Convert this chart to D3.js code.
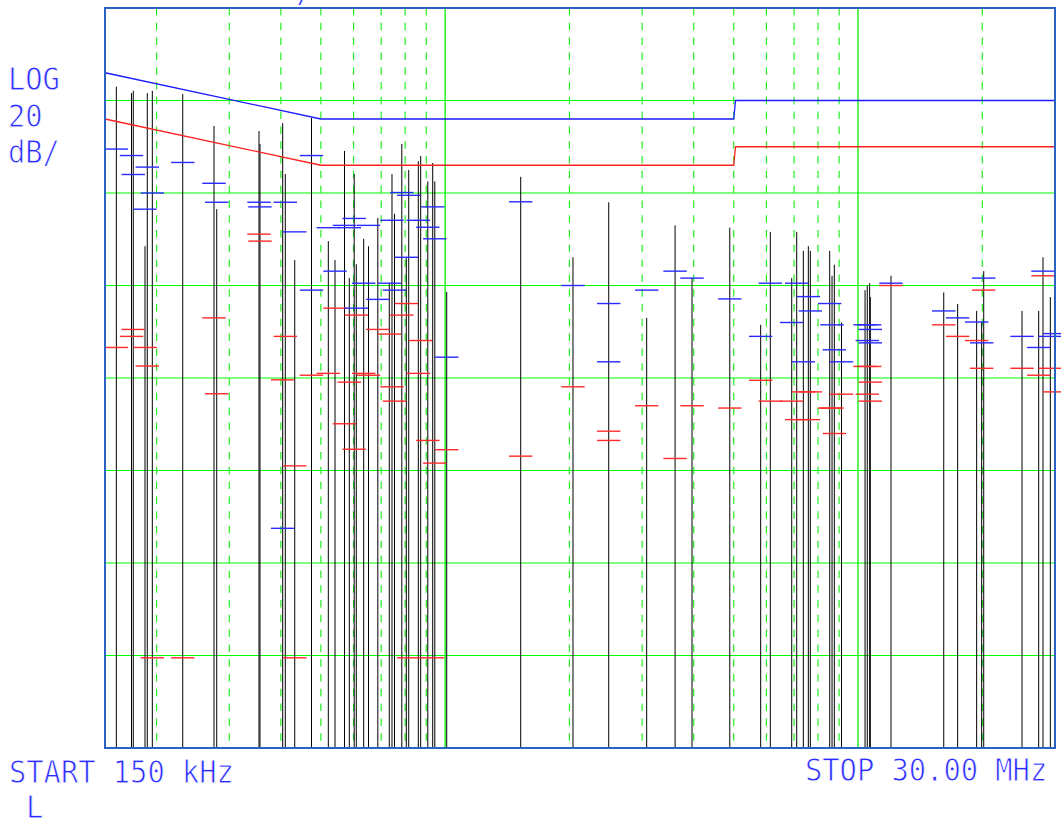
<!DOCTYPE html>
<html>
<head>
<meta charset="utf-8">
<script src="https://cdn.jsdelivr.net/npm/d3@7"></script>
<style>
  body { margin: 0; background: #fff; }
  svg { display: block; }
  .lbl { font-family: "DejaVu Sans Mono", monospace; fill: #2c2cff; stroke: #fff; stroke-width: 0.9; }
</style>
</head>
<body>
<div id="chart"></div>
<script>
// SETUP
////////////////////////////
var width = 1061,
    height = 825;

// frame of the analyzer screen (px)  -- NB "top" is taken by window.top, so prefix
var plotLeft = 105, plotRight = 1055, plotTop = 8, plotBottom = 748;

// DATA
//////////////////////////////////////////////////////
// spectrum peaks: frequency in MHz, level in dBuV
var peakFreq = [0.1598, 0.1739, 0.1756, 0.1875, 0.1899, 0.1953, 0.2314, 0.2755, 0.2797, 0.3541,
                0.3560, 0.4041, 0.4100, 0.4322, 0.4745, 0.5212, 0.5410, 0.5704, 0.5859, 0.6021,
                0.6092, 0.6349, 0.6521, 0.6869, 0.7323, 0.7434, 0.7539, 0.7852, 0.8052, 0.8161,
                0.8610, 0.8725, 0.9077, 0.9329, 0.9438, 1.0087, 1.524, 2.040, 2.490, 3.077,
                3.605, 3.962, 4.891, 5.811, 6.131, 6.909, 7.104, 7.371, 7.580, 7.665,
                8.540, 8.651, 8.762, 9.121, 10.40, 10.53, 10.67, 10.71, 12.02, 16.13,
                17.43, 19.38, 19.93, 20.16, 24.96, 27.39, 28.06, 29.23, 29.93];
var peakLevel = [63.0, 61.6, 62.1, 28.5, 61.6, 62.1, 61.4, 54.5, 36.5, 53.4,
                 50.6, 55.1, 44.1, 25.5, 56.2, 29.6, 25.5, 49.1, 21.6, 44.1,
                 24.6, 30.1, 28.5, 34.6, 20.5, 44.1, 35.5, 50.6, 25.9, 45.0,
                 46.9, 48.0, 42.5, 46.5, 42.5, 18.6, 43.5, 26.1, 38.0, 13.0,
                 33.0, 21.6, 32.5, 11.5, 31.6, 21.6, 31.6, 27.5, 28.5, 27.5,
                 27.5, 22.1, 24.5, 12.0, 19.0, 20.0, 20.5, 17.5, 22.1, 18.5,
                 16.0, 14.5, 12.1, 23.1, 14.5, 14.5, 26.1, 17.5, 19.0];

// quasi-peak readings (blue ticks)
var qpFreq = [0.1598, 0.1739, 0.1899, 0.1756, 0.2314, 0.1953, 0.1875, 0.2755, 0.2797, 0.3541,
              0.3560, 0.4100, 0.4745, 0.4322, 0.6021, 0.5704, 0.5212, 0.5859, 0.6521, 0.7852,
              0.8161, 0.9329, 0.7434, 0.8610, 0.9077, 0.9438, 0.8052, 0.5410, 0.4745, 0.6349,
              0.7323, 0.7539, 0.6869, 0.6092, 1.0087, 0.4041, 1.524, 2.040, 2.490, 2.490,
              3.077, 3.605, 3.962, 4.891, 5.811, 6.131, 7.104, 6.909, 7.580, 7.665,
              7.371, 8.540, 8.651, 8.762, 9.121, 10.40, 10.67, 10.71, 10.53, 10.71,
              12.02, 16.13, 17.43, 19.38, 20.16, 19.93, 24.96, 27.39, 28.06, 29.23, 29.93];
var qpLevel = [49.5, 48.1, 45.6, 44.0, 46.6, 40.0, 36.5, 42.1, 38.0, 38.0,
               37.0, 38.0, 48.1, 31.6, 34.5, 33.0, 32.5, 32.5, 33.0, 40.1,
               39.5, 37.0, 34.1, 34.1, 32.6, 30.1, 26.1, 23.1, 19.0, 20.5,
               20.5, 19.0, 17.0, 15.1, 4.5, -32.5, 38.1, 20.0, 16.1, 3.5,
               19.0, 23.1, 21.6, 17.1, 9.0, 20.5, 20.5, 12.0, 17.6, 14.5,
               3.5, 16.1, 11.5, 6.1, 3.5, 11.5, 11.5, 10.5, 8.1, 7.6,
               20.5, 14.5, 13.0, 12.1, 21.6, 7.6, 9.0, 6.6, 23.1, 9.0, 9.6];

// average readings (red ticks)
var avFreq = [0.1756, 0.1739, 0.1598, 0.1875, 0.1899, 0.2755, 0.2797, 0.3541, 0.3560, 0.4100,
              0.4041, 0.4745, 0.5212, 0.5410, 0.5704, 0.5859, 0.6021, 0.6092, 0.6349, 0.6521,
              0.6869, 0.7323, 0.7434, 0.7539, 0.7852, 0.8052, 0.8610, 0.8725, 0.9077, 0.9438,
              1.0087, 0.4322, 0.1953, 0.2314, 0.4322, 0.8161, 0.9329, 1.524, 2.040, 2.490,
              2.490, 3.077, 3.605, 3.962, 4.891, 5.811, 6.131, 6.909, 7.104, 7.371,
              7.665, 7.580, 8.540, 8.651, 9.121, 8.762, 10.40, 10.67, 10.71, 10.53,
              10.71, 12.02, 16.13, 17.43, 19.38, 20.16, 19.93, 24.96, 27.39, 28.06, 29.23, 29.93];
var avLevel = [10.5, 9.0, 6.6, 6.6, 2.6, 13.0, -3.4, 31.1, 29.6, 9.0,
               -0.4, 0.6, 1.0, 15.1, -9.9, -0.9, -15.4, 13.6, 1.0, 0.6,
               10.5, 9.5, -1.9, -5.0, 13.6, 16.1, 1.0, 8.1, -13.5, -18.4,
               -15.5, -19.0, -60.5, -60.5, -60.5, -60.5, -60.5, -16.9, -1.9, -11.5,
               -13.5, -6.0, -17.4, -6.0, -6.5, -0.5, -5.0, -5.0, -9.0, -3.0,
               -3.0, -9.0, -6.5, -6.5, -3.5, -12.0, 2.5, 2.5, -0.9, -3.5,
               -5.0, 20.0, 11.5, 9.0, 8.1, 19.0, 2.1, 2.1, 0.6, 22.1, 2.1, -3.0];

// limit lines (CISPR class B, QP and AV)
var limitFreq    = [0.15, 0.5, 5.0, 5.05, 30];
var qpLimitLevel = [66, 56, 56, 60, 60];
var avLimitLevel = [56, 46, 46, 50, 50];

// graticule
var levelTicks = [60, 40, 20, 0, -20, -40, -60];
var decadeFreqs = [1, 10];
var minorFreqs = [0.2, 0.3, 0.4, 0.5, 0.6, 0.7, 0.8, 0.9, 2, 3, 4, 5, 6, 7, 8, 9, 20];

// annotation text
var scaleLabels = ["LOG", "20", "dB/"];
var startLabel = "START 150 kHz";
var stopLabel = "STOP 30.00 MHz";
var detectorLabel = "L";

// SCALES
//////////////////////////////////////////////////////
var x = d3.scaleLog().domain([0.15, 30]).range([plotLeft, plotRight]);
var y = d3.scaleLinear().domain([-80, 80]).range([plotBottom, plotTop]);

var svg = d3.select("#chart").append("svg")
    .attr("width", width)
    .attr("height", height);

// graticule - solid horizontals
svg.append("g").selectAll("line")
  .data(levelTicks).enter().append("line")
    .attr("x1", plotLeft).attr("x2", plotRight)
    .attr("y1", function(d) { return y(d); })
    .attr("y2", function(d) { return y(d); })
    .attr("stroke", "#00ff00")
    .attr("stroke-width", 1.1);

// dashed verticals (2..9 of each decade)
svg.append("g").selectAll("line")
  .data(minorFreqs).enter().append("line")
    .attr("x1", function(d) { return x(d); })
    .attr("x2", function(d) { return x(d); })
    .attr("y1", plotTop).attr("y2", plotBottom)
    .attr("stroke", "#22ee22")
    .attr("stroke-width", 1.2)
    .attr("stroke-dasharray", "7.5,7.3");

// spectrum trace: one stroke per peak from the floor up
svg.append("g").selectAll("line")
  .data(peakFreq).enter().append("line")
    .attr("x1", function(d) { return x(d); })
    .attr("x2", function(d) { return x(d); })
    .attr("y1", plotBottom)
    .attr("y2", function(d, i) { return y(peakLevel[i]); })
    .attr("stroke", "#000")
    .attr("stroke-width", 1);

// solid decade lines
svg.append("g").selectAll("line")
  .data(decadeFreqs).enter().append("line")
    .attr("x1", function(d) { return x(d); })
    .attr("x2", function(d) { return x(d); })
    .attr("y1", plotTop).attr("y2", plotBottom)
    .attr("stroke", "#00ee00")
    .attr("stroke-width", 1.3);

// measurement ticks (23px wide, centred on the freq)
var tickHalf = 11.7;
function drawTicks(freqs, levels, colour) {
  svg.append("g").selectAll("line")
    .data(freqs).enter().append("line")
      .attr("x1", function(d) { return x(d) - tickHalf; })
      .attr("x2", function(d) { return x(d) + tickHalf; })
      .attr("y1", function(d, i) { return y(levels[i]); })
      .attr("y2", function(d, i) { return y(levels[i]); })
      .attr("stroke", colour)
      .attr("stroke-width", 1.4);
}
drawTicks(avFreq, avLevel, "#ff2a2a");
drawTicks(qpFreq, qpLevel, "#2a2aff");

// limit lines
var limitLine = d3.line()
    .x(function(d) { return x(d[0]); })
    .y(function(d) { return y(d[1]); });

svg.append("path")
    .datum(d3.zip(limitFreq, qpLimitLevel))
    .attr("d", limitLine)
    .attr("fill", "none")
    .attr("stroke", "#1c1cff")
    .attr("stroke-width", 1.3);

svg.append("path")
    .datum(d3.zip(limitFreq, avLimitLevel))
    .attr("d", limitLine)
    .attr("fill", "none")
    .attr("stroke", "#ff2020")
    .attr("stroke-width", 1.3);

// screen frame
svg.append("rect")
    .attr("x", plotLeft).attr("y", plotTop)
    .attr("width", plotRight - plotLeft).attr("height", plotBottom - plotTop)
    .attr("fill", "none")
    .attr("stroke", "#2a62c4")
    .attr("stroke-width", 2);

// TEXT
//////////////////////////////////////////////////////
var pitch = 17.3;
svg.selectAll("text.side")
  .data(scaleLabels).enter().append("text")
    .attr("class", "lbl side")
    .attr("x", 8)
    .attr("y", function(d, i) { return [90, 127, 163][i]; })
    .attr("font-size", 32)
    .attr("textLength", function(d) { return d.length * pitch; })
    .attr("lengthAdjust", "spacingAndGlyphs")
    .text(function(d) { return d; });

svg.append("text")
    .attr("class", "lbl")
    .attr("x", 9).attr("y", 783)
    .attr("font-size", 32)
    .attr("textLength", startLabel.length * pitch)
    .attr("lengthAdjust", "spacingAndGlyphs")
    .text(startLabel);

svg.append("text")
    .attr("class", "lbl")
    .attr("x", 805).attr("y", 781)
    .attr("font-size", 32)
    .attr("textLength", stopLabel.length * pitch)
    .attr("lengthAdjust", "spacingAndGlyphs")
    .text(stopLabel);

svg.append("text")
    .attr("class", "lbl")
    .attr("x", 26).attr("y", 818)
    .attr("font-size", 32)
    .attr("textLength", pitch)
    .attr("lengthAdjust", "spacingAndGlyphs")
    .text(detectorLabel);

// cut-off header character at the very top
svg.append("text")
    .attr("class", "lbl")
    .attr("x", 296).attr("y", 2)
    .attr("font-size", 32)
    .text("/");
</script>
</body>
</html>
